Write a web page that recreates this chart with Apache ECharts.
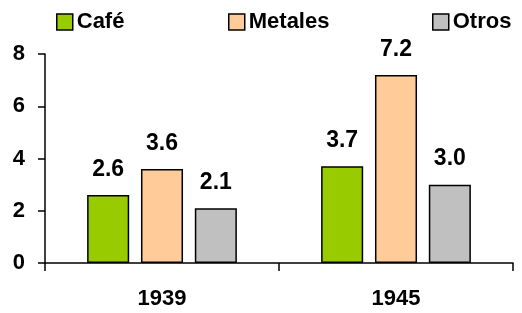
<!DOCTYPE html>
<html>
<head>
<meta charset="utf-8">
<script src="https://cdn.jsdelivr.net/npm/echarts@6/dist/echarts.min.js"></script>
<style>
  html, body { margin: 0; padding: 0; background: #fff; }
  #chart { width: 522px; height: 313px; }
</style>
</head>
<body>
<div id="chart"></div>
<script>
// Data
const years = ['1939', '1945'];
const cafe = [2.6, 3.7];
const metales = [3.6, 7.2];
const otros = [2.1, 3.0];
const yTicks = [0, 2, 4, 6, 8];

const FONT = '"Liberation Sans", Arial, sans-serif';

const chart = echarts.init(document.getElementById('chart'));

function legendAt(name, left) {
    return {
        data: [name],
        left: left,
        top: 11,
        padding: 0,
        itemWidth: 16,
        itemHeight: 16,
        icon: 'rect',
        itemStyle: { borderColor: '#000', borderWidth: 1.5 },
        textStyle: { fontFamily: FONT, fontWeight: 'bold', fontSize: 22, color: '#000', padding: [0, 0, 0, -1] }
    };
}

function barSeries(name, values, color) {
    return {
        name: name,
        type: 'bar',
        data: values,
        barGap: '28%',
        barCategoryGap: '36%',
        itemStyle: { color: color, borderColor: '#000', borderWidth: 1.5 },
        label: {
            show: true,
            position: 'top',
            distance: 14,
            fontFamily: FONT,
            fontWeight: 'bold',
            fontSize: 23,
            color: '#000',
            formatter: p => p.value.toFixed(1)
        }
    };
}

const option = {
    animation: false,
    legend: [
        legendAt('Café', 56),
        legendAt('Metales', 228),
        legendAt('Otros', 432)
    ],
    grid: { left: 45, right: 9, top: 54, bottom: 50, containLabel: false },
    xAxis: {
        type: 'category',
        data: years,
        axisLine: { lineStyle: { color: '#000', width: 1.5 } },
        axisTick: { show: true, inside: false, length: 8, lineStyle: { color: '#000', width: 1.5 } },
        axisLabel: { margin: 25, fontFamily: FONT, fontWeight: 'bold', fontSize: 22, color: '#000' }
    },
    yAxis: {
        type: 'value',
        min: yTicks[0],
        max: yTicks[yTicks.length - 1],
        interval: 2,
        axisLine: { show: true, lineStyle: { color: '#000', width: 1.5 } },
        axisTick: { show: true, inside: false, length: 7, lineStyle: { color: '#000', width: 1.5 } },
        axisLabel: { margin: 20, fontFamily: FONT, fontWeight: 'bold', fontSize: 22, color: '#000' },
        splitLine: { show: false }
    },
    series: [
        barSeries('Café', cafe, '#99CC00'),
        barSeries('Metales', metales, '#FFCC99'),
        barSeries('Otros', otros, '#C0C0C0')
    ]
};

chart.setOption(option);
</script>
</body>
</html>
